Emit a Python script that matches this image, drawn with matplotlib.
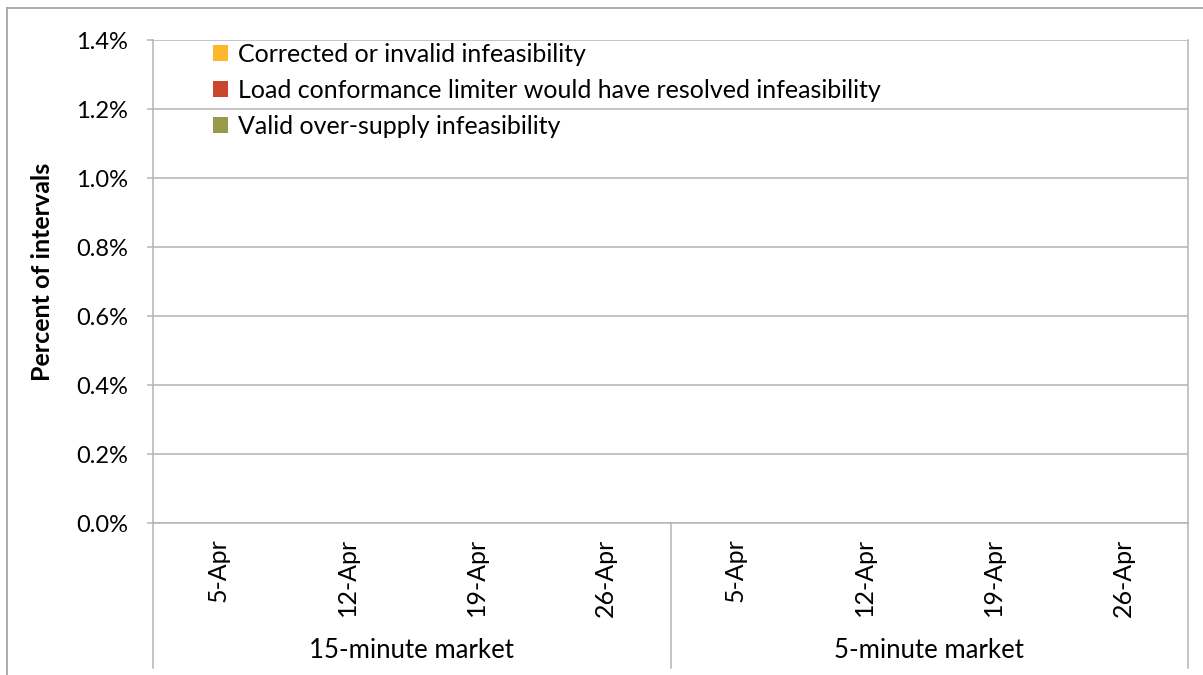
import matplotlib
matplotlib.use("Agg")
from matplotlib import pyplot as plt
from matplotlib.patches import Patch
from matplotlib.lines import Line2D
from matplotlib.ticker import FuncFormatter
import numpy as np

plt.rcParams['font.family'] = ['Lato', 'DejaVu Sans']

markets = ['15-minute market', '5-minute market']
days = ['2-Apr', '3-Apr', '4-Apr', '5-Apr', '6-Apr', '7-Apr', '8-Apr',
        '9-Apr', '10-Apr', '11-Apr', '12-Apr', '13-Apr', '14-Apr', '15-Apr',
        '16-Apr', '17-Apr', '18-Apr', '19-Apr', '20-Apr', '21-Apr', '22-Apr',
        '23-Apr', '24-Apr', '25-Apr', '26-Apr', '27-Apr', '28-Apr', '29-Apr']
shown_days = ['5-Apr', '12-Apr', '19-Apr', '26-Apr']

series_names = ['Corrected or invalid infeasibility',
                'Load conformance limiter would have resolved infeasibility',
                'Valid over-supply infeasibility']
series_colors = ['#FDB72F', '#C9472B', '#9A9948']

# percent of intervals per day, 15-minute market then 5-minute market
corrected_15 = [0.0] * 28
lcl_15 = [0.0] * 28
valid_15 = [0.0] * 28
corrected_5 = [0.0] * 28
lcl_5 = [0.0] * 28
valid_5 = [0.0] * 28

values = [np.array(corrected_15 + corrected_5),
          np.array(lcl_15 + lcl_5),
          np.array(valid_15 + valid_5)]

W, H = 1203, 675
fig = plt.figure(figsize=(W / 100, H / 100), dpi=100)
ax = fig.add_axes([153 / W, 1 - 523 / H, (1188 - 153) / W, (523 - 40) / H])

grid_c = '#b4b4b4'
fs = 18
n = len(days)
x = np.arange(n * len(markets))
bottom = np.zeros(len(x))
for vals, c in zip(values, series_colors):
    ax.bar(x, vals, width=0.6, bottom=bottom, color=c)
    bottom += vals

ax.set_xlim(-0.5, len(x) - 0.5)
ax.set_ylim(0, 0.014)
ax.set_yticks(np.arange(0, 0.0141, 0.002))
ax.yaxis.set_major_formatter(FuncFormatter(lambda v, p: f'{v * 100:.1f}%'))
ax.grid(axis='y', color=grid_c, linewidth=1.1)
ax.set_axisbelow(True)
ax.spines['top'].set_visible(False)
for s in ['left', 'right', 'bottom']:
    ax.spines[s].set_color(grid_c)
    ax.spines[s].set_linewidth(1.1)
ax.tick_params(axis='y', length=4, width=1.1, color=grid_c, pad=14,
               labelsize=17)

ticks, labels = [], []
for m in range(len(markets)):
    for d in shown_days:
        ticks.append(m * n + days.index(d))
        labels.append(d)
ax.set_xticks(ticks)
ax.set_xticklabels(labels, rotation=90, fontsize=fs, va='top')
ax.tick_params(axis='x', length=0, pad=11)

ax.set_ylabel('Percent of intervals', fontsize=fs, fontweight='bold')
ax.yaxis.set_label_coords((54 - 153) / (1188 - 153), 0.52)

# group separators and market labels under the date labels
sep_y = -(668 - 523) / (523 - 40)
trans = ax.get_xaxis_transform()
for m in range(len(markets) + 1):
    ax.add_line(Line2D([m * n - 0.5] * 2, [0, sep_y], transform=trans,
                       color=grid_c, linewidth=1.1, clip_on=False))
for m, name in enumerate(markets):
    ax.text(m * n + (n - 1) / 2, -(650 - 523) / (523 - 40), name,
            transform=trans, ha='center', va='center', fontsize=fs + 0.5)

handles = [Patch(facecolor=c, edgecolor='none') for c in series_colors]
ax.legend(handles, series_names, loc='upper left',
          bbox_to_anchor=(213 / W, 1 - 43 / H), bbox_transform=fig.transFigure,
          frameon=False, fontsize=fs, handlelength=0.6, handleheight=0.6,
          handletextpad=0.4, labelspacing=0.52, borderpad=0, borderaxespad=0)

# chart area border
bx, by = 7 / W, 1 - 8 / H
fig.add_artist(Line2D([bx, bx], [0, by], transform=fig.transFigure,
                      color='#a6a6a6', linewidth=1.3))
fig.add_artist(Line2D([bx, 1], [by, by], transform=fig.transFigure,
                      color='#a6a6a6', linewidth=1.3))

fig.savefig('out.png', dpi=100, facecolor='white')
